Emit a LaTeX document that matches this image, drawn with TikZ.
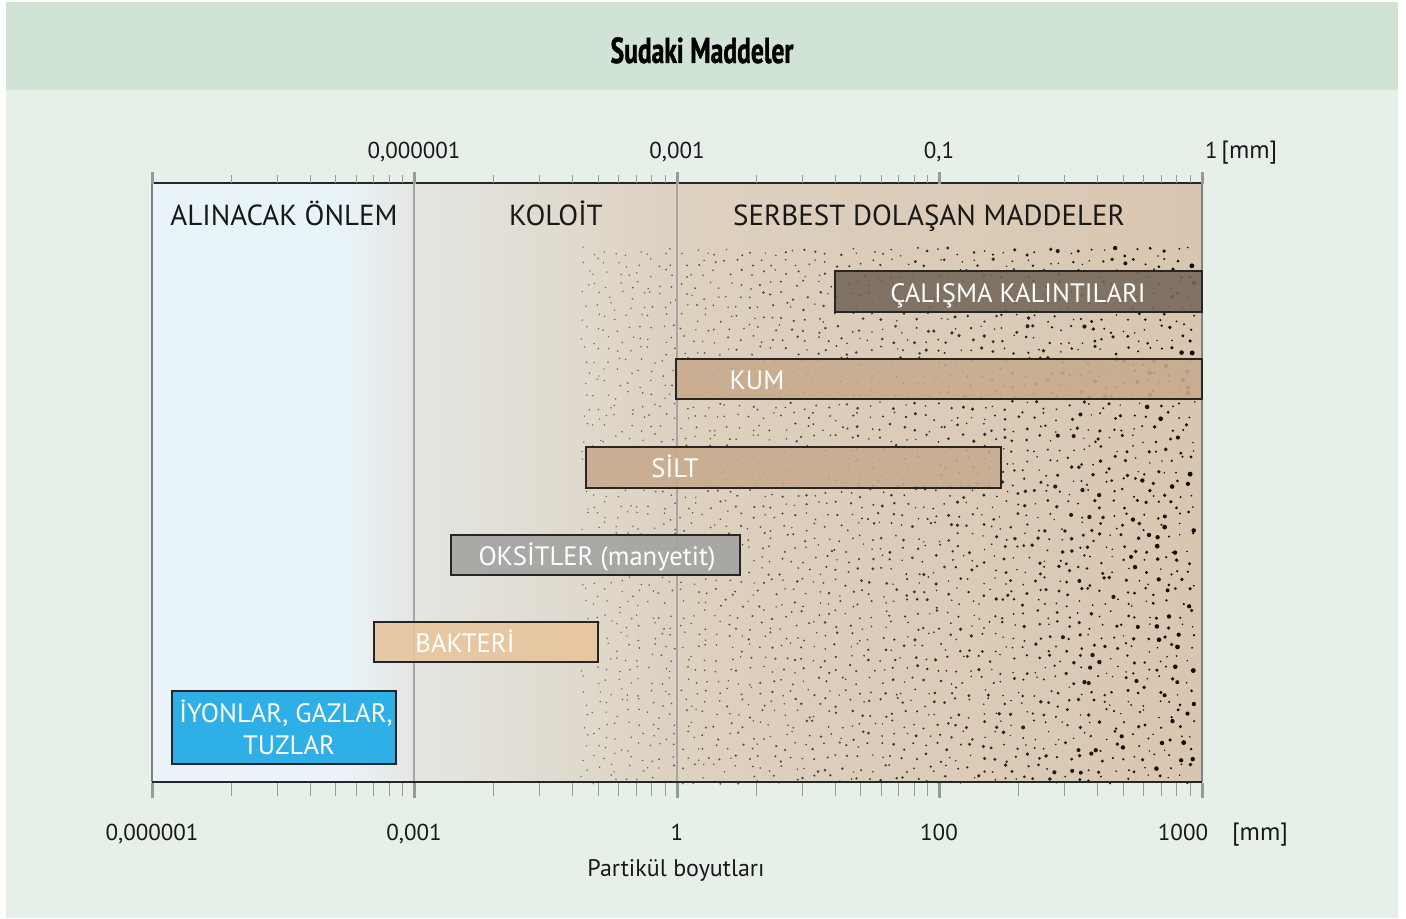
\documentclass[tikz,border=0pt]{standalone}
\usepackage{xcolor}
\usepackage{fontspec}
\setmainfont{PT Sans}
\newfontfamily\titlefont[FakeStretch=0.71,FakeBold=1.2]{PT Sans}
\usetikzlibrary{positioning}
\definecolor{headgreen}{HTML}{D0E3D5}
\definecolor{bodygreen}{HTML}{E6F0E8}
\definecolor{zoneblue}{HTML}{E9F4FA}
\definecolor{zonegrey}{HTML}{E4E6E2}
\definecolor{zonesand}{HTML}{DDD1C0}
\definecolor{zonetan}{HTML}{D9C6B0}
\definecolor{workc}{HTML}{776A5C}
\definecolor{sandc}{HTML}{C8AB8E}
\definecolor{oxidec}{HTML}{A3A3A1}
\definecolor{bactc}{HTML}{E8C59D}
\definecolor{ionc}{HTML}{2EB0E6}
\tikzstyle{bar} = [rectangle, draw=black!85, line width=1pt, fill opacity=0.9, inner sep=0pt]
\tikzstyle{barlabel} = [text=white, anchor=base, align=center, font=\fontsize{13.3}{16}\selectfont, inner sep=0pt]
\tikzstyle{zone} = [anchor=base, font=\fontsize{14.5}{17}\selectfont, text=black!90]
\tikzstyle{ticklabel} = [anchor=base, font=\fontsize{11.5}{13}\selectfont, text=black!90]
\tikzstyle{unitlabel} = [anchor=base, font=\fontsize{12.5}{14}\selectfont, text=black!90]
\tikzstyle{majortick} = [line width=1.5pt, draw=black!40]
\tikzstyle{minortick} = [line width=0.4pt, draw=black!40]

\begin{document}
\begin{tikzpicture}[x=0.5pt, y=-0.5pt]
\useasboundingbox (0,0) rectangle (1406,919);
\fill[white] (0,0) rectangle (1406,919);
\fill[bodygreen] (6,2) rectangle (1398,918);
\fill[headgreen] (6,2) rectangle (1398,90);
\node (title) [anchor=base] at (702,63) {\titlefont\bfseries\fontsize{18}{20}\selectfont Sudaki Maddeler};

% plot background
\fill[zoneblue] (152,183) rectangle (340,782);
\shade[left color=zoneblue, right color=zonegrey] (340,183) rectangle (414,782);
\shade[left color=zonegrey, right color=zonesand] (414,183) rectangle (677,782);
\shade[left color=zonesand, right color=zonetan] (677,183) rectangle (1202,782);

% stipple (jittered grid)
\pgfmathsetseed{2468}
\foreach \cx in {0,...,55}
  \foreach \cy in {0,...,48}{
    \pgfmathsetmacro{\px}{581+11*\cx+9*rnd}
    \pgfmathsetmacro{\py}{247+11*\cy+9*rnd}
    \pgfmathsetmacro{\t}{(\px-580)/622}
    \pgfmathsetmacro{\pr}{0.4+0.85*\t*rnd^1.4}
    \pgfmathsetmacro{\po}{0.5+0.45*\t}
    \fill[black, fill opacity=\po] (\px,\py) circle[radius=\pr pt];
  }

% dividers and frame
\draw[black!35, line width=0.6pt] (414,183) -- (414,782);
\draw[black!35, line width=0.6pt] (677,183) -- (677,782);
\draw[black!50, line width=0.6pt] (152,183) -- (152,782);
\draw[black!50, line width=0.6pt] (1202,183) -- (1202,782);
\draw[black!85, line width=0.8pt] (152,183) -- (1202,183);
\draw[black!85, line width=0.8pt] (152,782) -- (1202,782);

% ticks
\foreach \d in {0,...,3}
  \foreach \m in {2,...,9}{
    \pgfmathsetmacro{\tx}{152+262.5*(\d+log10(\m))}
    \draw[minortick] (\tx,175) -- (\tx,183);
    \draw[minortick] (\tx,783) -- (\tx,796);
  }
\foreach \d in {0,...,4}{
  \draw[majortick] (152+262.5*\d,172) -- (152+262.5*\d,184);
  \draw[majortick] (152+262.5*\d,783) -- (152+262.5*\d,798);
}

% zone titles
\node (zone_onlem) [zone] at (284,226) {ALINACAK ÖNLEM};
\node (zone_koloit) [zone] at (556,226) {KOLOİT};
\node (zone_serbest) [zone] at (929,226) {SERBEST DOLAŞAN MADDELER};

% bars
\node (calisma) [bar, fill=workc, minimum width=183.5pt, minimum height=20.5pt] at (1018.5,291.5) {};
\node (calisma_label) [barlabel] at (1018,303) {ÇALIŞMA KALINTILARI};
\node (kum) [bar, fill=sandc, minimum width=263pt, minimum height=20pt] at (939,379) {};
\node (kum_label) [barlabel] at (757,389) {KUM};
\node (silt) [bar, fill=sandc, minimum width=207.5pt, minimum height=20.5pt] at (793.5,467.5) {};
\node (silt_label) [barlabel] at (675,477) {SİLT};
\node (oksit) [bar, fill=oxidec, minimum width=144.5pt, minimum height=20pt] at (595.5,555) {};
\node (oksit_label) [barlabel] at (597,565) {OKSİTLER (manyetit)};
\node (bakteri) [bar, fill=bactc, minimum width=112pt, minimum height=20pt] at (486,642) {};
\node (bakteri_label) [barlabel] at (465,652) {BAKTERİ};
\node (iyon) [bar, fill=ionc, fill opacity=1, minimum width=112pt, minimum height=36.5pt] at (284,727.5) {};
\node (iyon_label) [barlabel] at (286,722) {İYONLAR, GAZLAR,};
\node (iyon_label2) [barlabel] at (289,754) {TUZLAR};

% top axis labels
\node (top_1) [ticklabel] at (414,159) {0,000001};
\node (top_2) [ticklabel] at (677,159) {0,001};
\node (top_3) [ticklabel] at (939,159) {0,1};
\node (top_4) [ticklabel, anchor=base west] at (1198,159) {1\,{\fontsize{12.5}{14}\selectfont[mm]}};

% bottom axis labels
\node (bot_1) [ticklabel] at (152,840) {0,000001};
\node (bot_2) [ticklabel] at (414,840) {0,001};
\node (bot_3) [ticklabel] at (677,840) {1};
\node (bot_4) [ticklabel] at (939,840) {100};
\node (bot_5) [ticklabel] at (1183,840) {1000};
\node (bot_unit) [unitlabel] at (1260,840) {[mm]};
\node (size_title) [ticklabel, font=\fontsize{12}{14}\selectfont] at (676,876) {Partikül boyutları};
\end{tikzpicture}
\end{document}
